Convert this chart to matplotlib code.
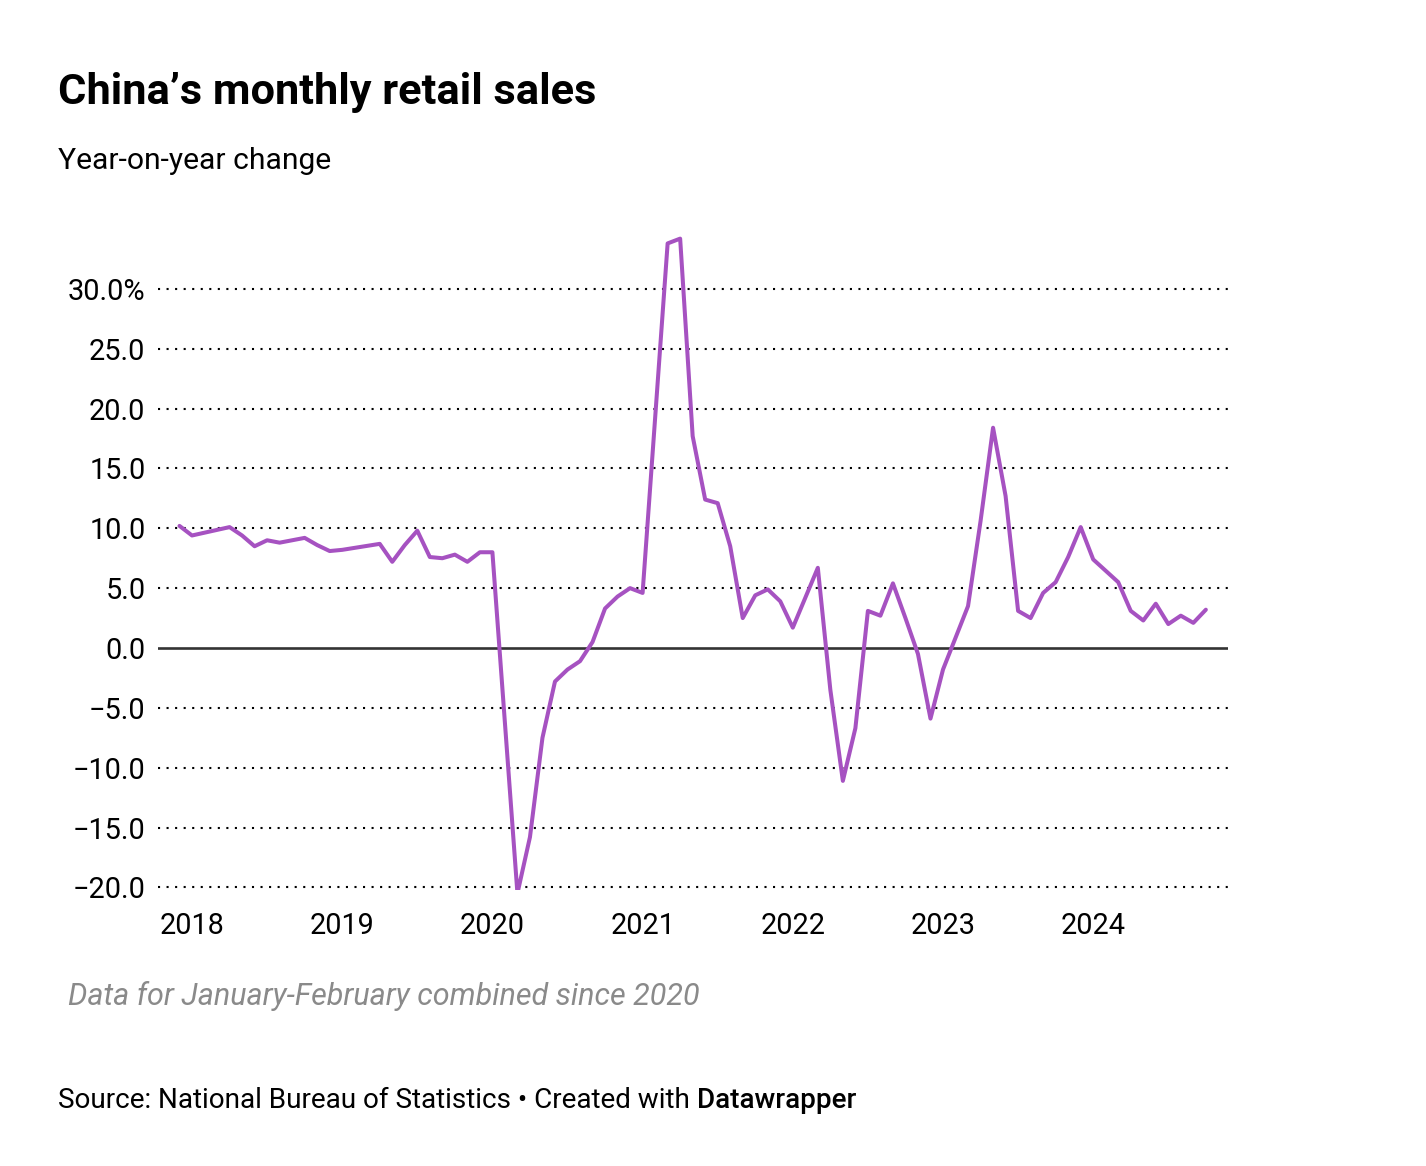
import matplotlib.pyplot as plt

# year-on-year change of retail sales, by month (Jan-Feb combined since 2020)
years = [2017, 2017,
         2018, 2018, 2018, 2018, 2018, 2018, 2018, 2018, 2018, 2018,
         2019, 2019, 2019, 2019, 2019, 2019, 2019, 2019, 2019, 2019,
         2020, 2020, 2020, 2020, 2020, 2020, 2020, 2020, 2020, 2020, 2020,
         2021, 2021, 2021, 2021, 2021, 2021, 2021, 2021, 2021, 2021, 2021,
         2022, 2022, 2022, 2022, 2022, 2022, 2022, 2022, 2022, 2022, 2022,
         2023, 2023, 2023, 2023, 2023, 2023, 2023, 2023, 2023, 2023, 2023,
         2024, 2024, 2024, 2024, 2024, 2024, 2024, 2024]
months = ([11, 12] + [3, 4, 5, 6, 7, 8, 9, 10, 11, 12] * 2
          + [2, 3, 4, 5, 6, 7, 8, 9, 10, 11, 12] * 4 + [2, 3, 4, 5, 6, 7, 8, 9])
values = [10.2, 9.4,
          10.1, 9.4, 8.5, 9.0, 8.8, 9.0, 9.2, 8.6, 8.1, 8.2,
          8.7, 7.2, 8.6, 9.8, 7.6, 7.5, 7.8, 7.2, 8.0, 8.0,
          -20.5, -15.8, -7.5, -2.8, -1.8, -1.1, 0.5, 3.3, 4.3, 5.0, 4.6,
          33.8, 34.2, 17.7, 12.4, 12.1, 8.5, 2.5, 4.4, 4.9, 3.9, 1.7,
          6.7, -3.5, -11.1, -6.7, 3.1, 2.7, 5.4, 2.5, -0.5, -5.9, -1.8,
          3.5, 10.6, 18.4, 12.7, 3.1, 2.5, 4.6, 5.5, 7.6, 10.1, 7.4,
          5.5, 3.1, 2.3, 3.7, 2.0, 2.7, 2.1, 3.2]

year_ticks = [2018, 2019, 2020, 2021, 2022, 2023, 2024]
y_ticks = [30, 25, 20, 15, 10, 5, 0, -5, -10, -15, -20]
y_labels = ["30.0%", "25.0", "20.0", "15.0", "10.0", "5.0", "0.0",
            "\u22125.0", "\u221210.0", "\u221215.0", "\u221220.0"]

plt.rcParams['font.family'] = ['Roboto', 'DejaVu Sans']

W, H = 1426, 1166
fig = plt.figure(figsize=(W / 100, H / 100), dpi=100)

# axes box in pixels: x 158..1228, y 230..890
ax = fig.add_axes([158 / W, (H - 890) / H, 1070 / W, 660 / H])

# month-end positions
x = [y + m / 12 for y, m in zip(years, months)]

for t in y_ticks:
    if t == 0:
        ax.axhline(0, color='#333333', linewidth=1.9, zorder=2)
    else:
        ax.axhline(t, color='black', linewidth=1.5, linestyle=(0, (1, 3.1)), zorder=1)

ax.plot(x, values, color='#a652c1', linewidth=2.9, solid_joinstyle='round',
        solid_capstyle='round', zorder=3)

ax.set_xlim(2018 - 34 / 150.2, 2018 + 1036 / 150.2)
ax.set_ylim((648 - 890) / 11.97, (648 - 230) / 11.97)

ax.set_yticks(y_ticks)
ax.set_yticklabels(y_labels)
ax.set_xticks(year_ticks)
ax.set_xticklabels([str(y) for y in year_ticks])
ax.tick_params(axis='both', length=0, labelsize=20.8, colors='black')
ax.tick_params(axis='y', pad=9)
ax.tick_params(axis='x', pad=16)

for s in ax.spines.values():
    s.set_visible(False)

def fy(py):
    return 1 - py / H

fig.text(58 / W, fy(104), "China\u2019s monthly retail sales", fontsize=31.2,
         fontweight='bold', color='black', va='baseline')
fig.text(58 / W, fy(169), "Year-on-year change", fontsize=21.6,
         color='black', va='baseline')
fig.text(68 / W, fy(1005), "Data for January-February combined since 2020",
         fontsize=22.0, fontstyle='italic', color='#8a8a8a', va='baseline')

src = fig.text(58 / W, fy(1108), "Source: National Bureau of Statistics \u2022 Created with ",
               fontsize=20.1, color='black', va='baseline')
fig.canvas.draw()
bb = src.get_window_extent()
fig.text(bb.x1 / W, fy(1108), "Datawrapper", fontsize=20.1, fontweight='medium',
         color='black', va='baseline')

fig.savefig('out.png', dpi=100)
